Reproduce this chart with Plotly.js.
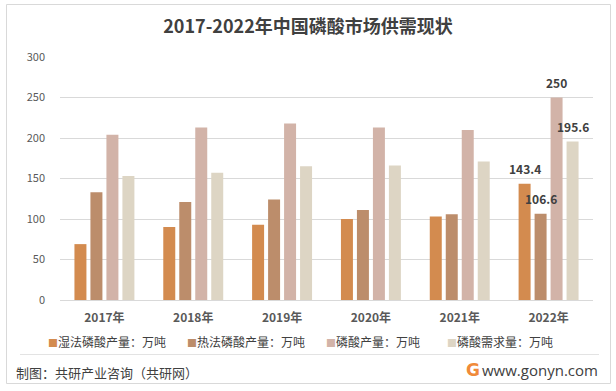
<!DOCTYPE html>
<html>
<head>
<meta charset="utf-8">
<script src="https://cdn.plot.ly/plotly-3.0.1.min.js"></script>
<style>
html,body{margin:0;padding:0;background:#fff;}
#chart{width:616px;height:391px;}
</style>
</head>
<body>
<div id="chart"></div>
<script>
var categories = ["2017年","2018年","2019年","2020年","2021年","2022年"];
var wetProcess = [69, 90, 93, 100, 103, 143.4];
var thermalProcess = [133, 121, 124, 111, 106, 106.6];
var acidOutput = [204, 213, 218, 213, 210, 250];
var acidDemand = [153, 157, 165, 166, 171, 195.6];
var seriesNames = ["湿法磷酸产量：万吨","热法磷酸产量：万吨","磷酸产量：万吨","磷酸需求量：万吨"];
var colors = ["#D38B4F","#BC8D6B","#D2B3A8","#DDD5C4"];
var allSeries = [wetProcess, thermalProcess, acidOutput, acidDemand];

var FONT = "'Noto Sans CJK SC', 'Noto Sans', sans-serif";

var traces = allSeries.map(function(vals, k){
  return {
    type: "bar",
    name: seriesNames[k],
    x: categories,
    y: vals,
    marker: {color: colors[k]},
    hoverinfo: "none",
    showlegend: false
  };
});

// paper-coordinate helpers (plot area: x 60..593, y 57..300)
function px(x){ return (x-60)/533; }
function py(y){ return (300-y)/243; }

var annotations = [
  {xref: "paper", yref: "paper", x: px(14), y: py(372), xanchor: "left", yanchor: "middle",
   text: "制图：共研产业咨询（共研网）", showarrow: false,
   font: {family: FONT, size: 13, color: "#404040"}},
  {xref: "paper", yref: "paper", x: px(600), y: py(370), xanchor: "right", yanchor: "middle",
   text: "www.gonyn.com", showarrow: false,
   font: {family: "'Open Sans', 'Noto Sans', sans-serif", size: 15, color: "#404040"}},
  {xref: "paper", yref: "paper", x: px(473), y: py(370), xanchor: "center", yanchor: "middle",
   text: "G", showarrow: false,
   font: {family: "'DejaVu Sans', sans-serif", size: 17, color: "#F08A3A", weight: "bold"}}
];

// legend entries
var legendX = [46, 185, 324, 445];
seriesNames.forEach(function(n, k){
  annotations.push({
    xref: "paper", yref: "paper", x: px(legendX[k]), y: py(342), xanchor: "left", yanchor: "middle",
    text: '<span style="color:' + colors[k] + ';font-size:10px">■</span>' + n,
    showarrow: false,
    font: {family: FONT, size: 12, color: "#404040"}
  });
});

// data labels for the last category (drawn above all bars)
var offsets = [-24, -8, 8, 24];
var last = categories.length - 1;
allSeries.forEach(function(vals, k){
  annotations.push({
    xref: "x", yref: "y", x: categories[last], y: vals[last],
    xshift: offsets[k], yshift: 5, xanchor: "center", yanchor: "bottom",
    text: String(vals[last]), showarrow: false,
    font: {family: FONT, size: 12, color: "#404040", weight: "bold"}
  });
});

var layout = {
  width: 616, height: 391,
  margin: {l: 60, r: 23, t: 57, b: 91},
  paper_bgcolor: "#fff",
  plot_bgcolor: "#fff",
  barmode: "group",
  bargap: 0.28,
  bargroupgap: 0.25,
  showlegend: false,
  title: {
    text: "2017-2022年中国磷酸市场供需现状",
    font: {family: FONT, size: 18, color: "#404040", weight: "bold"},
    x: 0.5, xanchor: "center",
    y: 1 - 27/391, yanchor: "middle", yref: "container"
  },
  xaxis: {
    type: "category",
    showgrid: false,
    showline: false,
    zeroline: false,
    ticks: "",
    ticklabelstandoff: 9,
    tickfont: {family: FONT, size: 12, color: "#595959", weight: "bold"}
  },
  yaxis: {
    range: [0, 300],
    dtick: 50,
    showgrid: true,
    gridcolor: "#D9D9D9",
    gridwidth: 1,
    zeroline: true,
    zerolinecolor: "#D9D9D9",
    zerolinewidth: 1,
    showline: false,
    ticks: "",
    ticklabelstandoff: 14,
    tickfont: {family: FONT, size: 11, color: "#595959"}
  },
  shapes: [
    {type: "rect", xref: "paper", yref: "paper",
     x0: px(6.5), x1: px(610.5), y0: py(4.5), y1: py(383.5),
     line: {color: "#D9D9D9", width: 1}, fillcolor: "rgba(0,0,0,0)", layer: "below"},
    {type: "line", xref: "paper", yref: "paper",
     x0: px(20), x1: px(599), y0: py(354.5), y1: py(354.5),
     line: {color: "#E3E3E3", width: 1}}
  ],
  annotations: annotations
};

Plotly.newPlot("chart", traces, layout, {staticPlot: true, displayModeBar: false});
</script>
</body>
</html>
